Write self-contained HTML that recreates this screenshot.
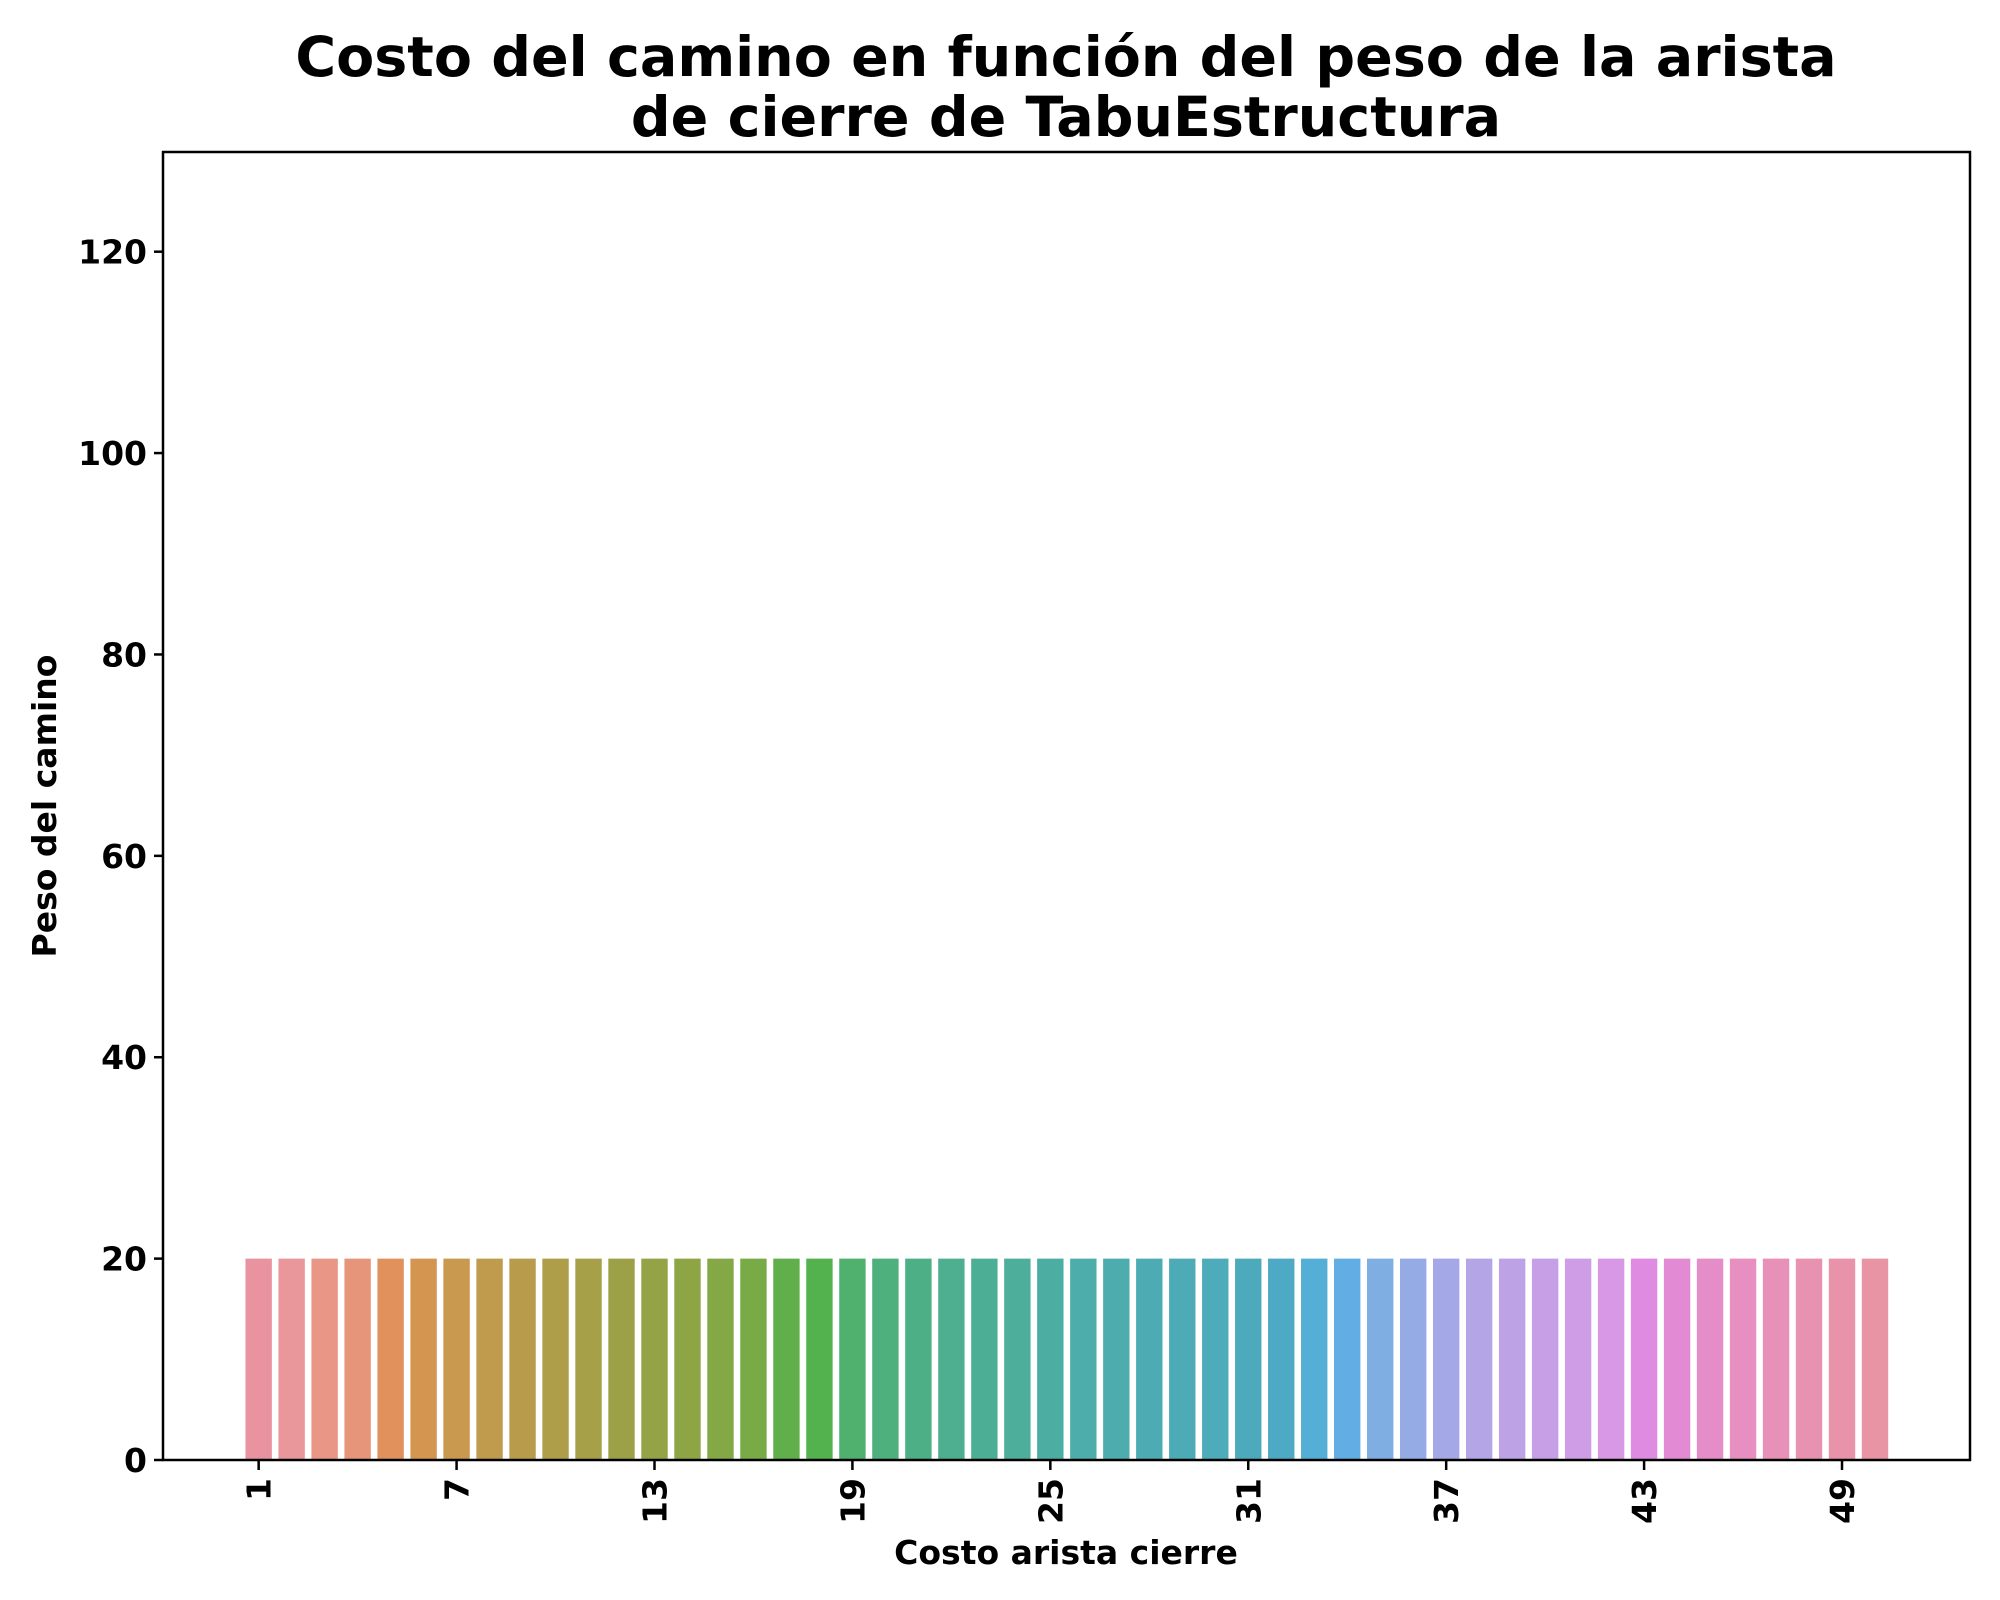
<!DOCTYPE html>
<html><head><meta charset="utf-8"><style>
html,body{margin:0;padding:0;background:#fff;}
svg{display:block;font-family:"DejaVu Sans","Liberation Sans",sans-serif;font-weight:bold;}
</style></head><body>
<svg id="chart" width="2000" height="1600" viewBox="0 0 2000 1600" xmlns="http://www.w3.org/2000/svg">
<text x="1066" y="76" font-size="55.5" text-anchor="middle">Costo del camino en función del peso de la arista</text>
<text x="1066" y="136" font-size="55.5" text-anchor="middle">de cierre de TabuEstructura</text>
<g id="bars"></g>
<g id="yticks"></g>
<g id="xticks"></g>
<rect x="163" y="152" width="1807" height="1308" fill="none" stroke="#000" stroke-width="2.5"/>
<text x="1066" y="1564" font-size="33" text-anchor="middle">Costo arista cierre</text>
<text transform="translate(56,806) rotate(-90)" font-size="33" text-anchor="middle">Peso del camino</text>
</svg>
<script>
const categories = Array.from({length:50},(_,i)=>i+1);
const values = [20,20,20,20,20,20,20,20,20,20,20,20,20,20,20,20,20,20,20,20,20,20,20,20,20,20,20,20,20,20,20,20,20,20,20,20,20,20,20,20,20,20,20,20,20,20,20,20,20,20];
const yTicks = [0,20,40,60,80,100,120];
const xTickLabels = [1,7,13,19,25,31,37,43,49];
const colors = ["#e8939f","#e9979a","#e99687","#e7957a","#e0915c","#d49550","#c8994e","#c09a4d","#b89c4b","#af9e49","#a6a048","#9ca147","#94a346","#8ea546","#84a846","#78ab45","#60af4a","#53b24e","#4fb16d","#4eb07c","#4daf86","#4daf8f","#4dae96","#4dae9c","#4cada3","#4cadaa","#4cacae","#4cabb3","#4cabb6","#4dabba","#4daabd","#4eaac4","#55aed6","#61ade4","#7faee3","#95abe5","#a5a8e6","#b3a5e6","#bea2e6","#c79fe6","#cf9ce6","#d898e6","#e08be2","#e28ad4","#e58dc9","#e68fc0","#e791b8","#e892b1","#e893aa","#e894a4"];
const svgNS="http://www.w3.org/2000/svg";
const X0=163, X1=1970, Y0=1460, Y1=152;
const xmin=-2.9, xmax=51.88, ymin=0, ymax=129.9;
const xs=v=>X0+(v-xmin)/(xmax-xmin)*(X1-X0);
const ys=v=>Y0-(v-ymin)/(ymax-ymin)*(Y0-Y1);
const bw=(xs(1)-xs(0))*0.8;
const bars=document.getElementById('bars');
categories.forEach((c,i)=>{
  const r=document.createElementNS(svgNS,'rect');
  r.setAttribute('x',xs(i)-bw/2);
  r.setAttribute('y',ys(values[i]));
  r.setAttribute('width',bw);
  r.setAttribute('height',ys(0)-ys(values[i]));
  r.setAttribute('fill',colors[i%colors.length]);
  
  
  bars.appendChild(r);
});
const yg=document.getElementById('yticks');
yTicks.forEach(t=>{
  const y=ys(t);
  const l=document.createElementNS(svgNS,'line');
  l.setAttribute('x1',X0-9);l.setAttribute('x2',X0);l.setAttribute('y1',y);l.setAttribute('y2',y);
  l.setAttribute('stroke','#000');l.setAttribute('stroke-width','2.5');
  
  
  yg.appendChild(l);
  const tx=document.createElementNS(svgNS,'text');
  tx.setAttribute('x',X0-16);tx.setAttribute('y',y+12);tx.setAttribute('font-size','33');tx.setAttribute('text-anchor','end');
  tx.textContent=t;
  
  
  yg.appendChild(tx);
});
const xg=document.getElementById('xticks');
xTickLabels.forEach(lab=>{
  const i=categories.indexOf(lab);
  const x=xs(i);
  const l=document.createElementNS(svgNS,'line');
  l.setAttribute('x1',x);l.setAttribute('x2',x);l.setAttribute('y1',Y0);l.setAttribute('y2',Y0+10);
  l.setAttribute('stroke','#000');l.setAttribute('stroke-width','2.5');
  
  
  xg.appendChild(l);
  const tx=document.createElementNS(svgNS,'text');
  tx.setAttribute('transform','translate('+(x+12)+','+(Y0+18)+') rotate(-90)');
  tx.setAttribute('font-size','33');tx.setAttribute('text-anchor','end');
  tx.textContent=lab;
  
  
  xg.appendChild(tx);
});
</script>
</body></html>
